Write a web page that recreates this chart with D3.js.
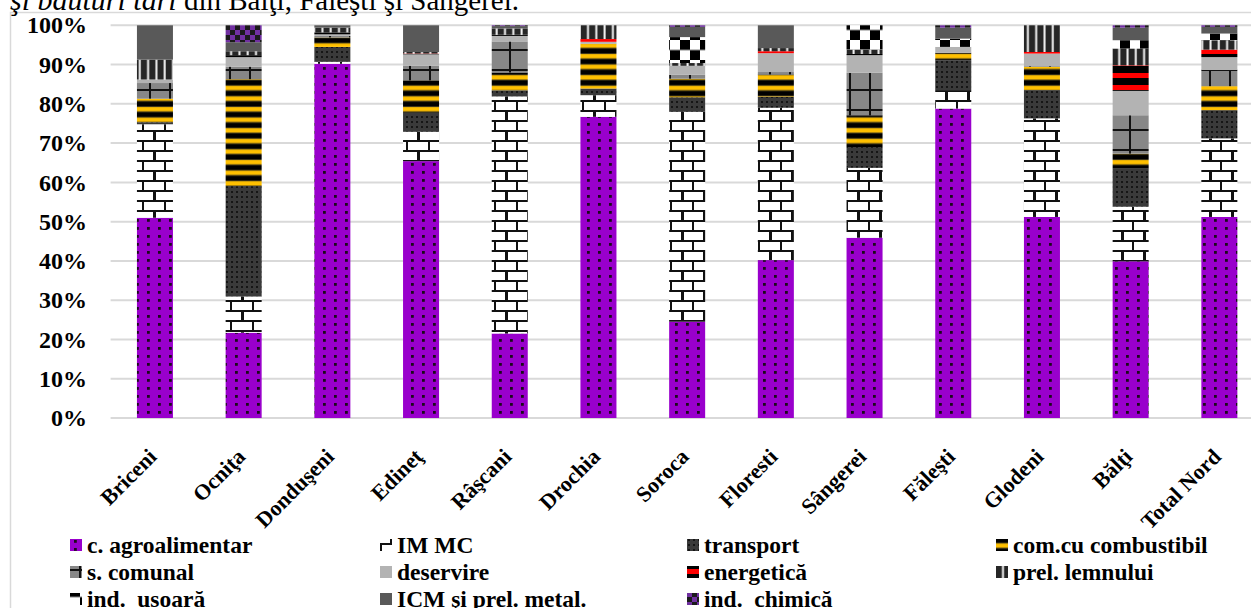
<!DOCTYPE html>
<html><head><meta charset="utf-8">
<script src="https://cdn.jsdelivr.net/npm/d3@7"></script>
<style>
body{margin:0;background:#fff;}
svg{display:block;}
text{font-family:"Liberation Serif","Times New Roman",serif;}
</style></head>
<body><svg id="c" width="1251" height="608"></svg>
<script>
const categories = ["Briceni","Ocniţa","Donduşeni","Edineţ","Râşcani","Drochia","Soroca","Floresti","Sângerei","Făleşti","Glodeni","Bălţi","Total Nord"];
const seriesNames = ["c. agroalimentar","IM MC","transport","com.cu combustibil","s. comunal","deservire","energetică","prel. lemnului","ind.  usoară","ICM şi prel. metal.","ind.  chimică"];
const agro      = [51.0, 21.7, 90.2, 65.4, 21.5, 76.7, 24.5, 40.2, 45.9, 78.8, 51.2, 39.9, 51.2];
const immc      = [23.8,  9.2,  0.6,  7.5, 60.3,  5.5, 53.4, 38.8, 17.8,  4.7, 25.1, 13.9, 20.0];
const transport = [ 0.5, 28.1,  3.7,  4.8,  1.5,  1.7,  3.7,  2.8,  5.3,  7.6,  7.2,  9.7,  7.2];
const combust   = [ 6.0, 27.2,  2.4,  8.3,  4.6, 11.4,  4.7,  5.7,  8.1,  1.9,  5.9,  3.8,  6.1];
const comunal   = [ 4.0,  3.2,  0.4,  3.7,  7.9,  0.0,  1.0,  0.6, 10.8,  0.0,  0.2,  9.8,  4.2];
const deservire = [ 0.9,  2.4,  0.4,  2.9,  1.4,  0.5,  2.3,  4.8,  4.5,  1.5,  3.2,  6.2,  3.2];
const energetica= [ 0.0,  0.5,  0.5,  0.2,  0.3,  0.7,  0.0,  0.5,  0.3,  0.0,  0.4,  6.5,  1.9];
const lemn      = [ 5.05, 1.0,  1.2,  0.4,  1.6,  3.5,  0.7,  0.8,  1.1,  0.0,  6.8,  4.3,  2.4];
const usoara    = [ 0.0,  0.0,  0.0,  0.0,  0.0,  0.0,  6.6,  0.0,  6.2,  2.1,  0.0,  2.1,  1.7];
const icm       = [ 8.75, 2.3,  0.6,  6.8,  0.6,  0.0,  2.6,  5.8,  0.0,  2.8,  0.0,  3.2,  1.7];
const chimica   = [ 0.0,  4.3,  0.0,  0.0,  0.2,  0.0,  0.4,  0.0,  0.0,  0.6,  0.0,  0.6,  0.4];
const yTicks = [0,0.1,0.2,0.3,0.4,0.5,0.6,0.7,0.8,0.9,1.0];

const seriesValues = [agro, immc, transport, combust, comunal, deservire, energetica, lemn, usoara, icm, chimica];
const keys = seriesNames;
const rows = categories.map((c,i)=>{const r={cat:c}; keys.forEach((k,j)=>r[k]=seriesValues[j][i]); return r;});

const FONT = "Liberation Serif";
const svg = d3.select("#c");
const defs = svg.append("defs");
function pat(id,w,h,draw){const p=defs.append("pattern").attr("id",id).attr("patternUnits","userSpaceOnUse").attr("width",w).attr("height",h); draw(p); return p;}
const R=(p,x,y,w,h,f)=>p.append("rect").attr("x",x).attr("y",y).attr("width",w).attr("height",h).attr("fill",f);
// c. agroalimentar: purple with black dots
pat("p0",11,8,p=>{R(p,0,0,11,8,"#9900cc");R(p,4,3,2.8,2.8,"#1a0a1a");});
// IM MC: bricks
pat("p1",22,20,p=>{R(p,0,0,22,20,"#fff");R(p,0,0,22,2,"#111");R(p,0,10,22,2,"#111");R(p,10,0,2,10,"#111");R(p,0,10,2,10,"#111");R(p,21,10,1,10,"#111");});
// transport: dark dotted
pat("p2",5,5,p=>{R(p,0,0,5,5,"#3a3a3a");R(p,1,1,2,2,"#151515");});
// com.cu combustibil: yellow/black stripes
pat("p3",10,10.6,p=>{R(p,0,0,10,10.6,"#000");R(p,0,1,10,4.5,"#ffc000");R(p,0,0.5,10,0.6,"#7a6a30");R(p,0,5.5,10,0.6,"#7a6a30");});
// s. comunal: grey grid
pat("p4",20,20,p=>{R(p,0,0,20,20,"#878787");R(p,9,0,2,20,"#111");R(p,0,9,20,2,"#111");});
// deservire
pat("p5",10,10,p=>{R(p,0,0,10,10,"#b3b3b3");});
// energetica: red/black stripes
pat("p6",10,12,p=>{R(p,0,0,10,12,"#000");R(p,0,1,10,5,"#ff0000");});
// prel. lemnului: vertical stripes
pat("p7",8.3,10,p=>{R(p,0,0,8.3,10,"#262626");R(p,6,0,2,10,"#f2f2f2");});
// ind. usoara: checkerboard
pat("p8",20,20,p=>{R(p,0,0,20,20,"#fff");R(p,0,0,10,10,"#000");R(p,10,10,10,10,"#000");R(p,0,9.5,20,1,"#888");});
// ICM
pat("p9",10,10,p=>{R(p,0,0,10,10,"#595959");});
// ind. chimica: purple/black checker
pat("p10",10,10,p=>{R(p,0,0,10,10,"#7030a0");R(p,0,0,5,5,"#1a1a1a");R(p,5,5,5,5,"#1a1a1a");});

// background + border
svg.append("rect").attr("width",1251).attr("height",608).attr("fill","#fff");
svg.append("path").attr("d","M10.5,700V12.5H1300").attr("fill","none").attr("stroke","#d9d9d9").attr("stroke-width",1.5);

// title fragment (cut off)
const t = svg.append("text").attr("x",10).attr("y",10).attr("font-size",30).attr("font-family",FONT).attr("fill","#000");
t.append("tspan").attr("font-style","italic").text("şi băuturi tari");
t.append("tspan").attr("font-size",29).text(" din Bălţi, Făleşti şi Sângerei.");

const x = d3.scaleBand().domain(categories).range([110.6,1263.7]).paddingInner(0.594).paddingOuter(0.297);
const y = d3.scaleLinear().domain([0,1]).range([418,25.3]);

// gridlines
svg.append("g").selectAll("line").data(yTicks).join("line")
  .attr("x1",110.6).attr("x2",1300).attr("y1",d=>y(d)).attr("y2",d=>y(d))
  .attr("stroke","#d9d9d9").attr("stroke-width",2);

// y axis labels
const yAxis = d3.axisLeft(y).tickValues(yTicks).tickFormat(d3.format(".0%")).tickSize(0).tickPadding(0);
const ya = svg.append("g").attr("transform","translate(87,0)").call(yAxis);
ya.select(".domain").remove();
ya.attr("font-family",FONT);
ya.selectAll("text").attr("font-size",24).attr("font-weight","bold").attr("font-family",FONT).attr("fill","#000");

// stacked bars
const stack = d3.stack().keys(keys).offset(d3.stackOffsetExpand);
const stacked = stack(rows);
svg.append("g").selectAll("g").data(stacked).join("g")
  .attr("fill",(d,i)=>`url(#p${i})`)
  .selectAll("rect").data(d=>d).join("rect")
  .attr("x",d=>x(d.data.cat)).attr("width",x.bandwidth())
  .attr("y",d=>y(d[1])).attr("height",d=>Math.max(0,y(d[0])-y(d[1])));

// x labels
const xAxis = d3.axisBottom(x).tickSize(0).tickPadding(0);
const xa = svg.append("g").attr("transform","translate(0,418)").call(xAxis);
xa.select(".domain").remove();
xa.attr("font-family",FONT);
xa.selectAll("text").attr("font-size",22).attr("font-weight","bold").attr("font-family",FONT).attr("fill","#000")
  .attr("text-anchor","end").attr("dy",null).attr("y",null)
  .attr("transform","translate(3,40) rotate(-45)");

// legend
const legX = [70, 380, 687, 996];
const legY = [553, 580, 607];
const lg = svg.append("g").selectAll("g").data(keys).join("g")
  .attr("transform",(d,i)=>`translate(${legX[i%4]},${legY[Math.floor(i/4)]})`);
lg.append("rect").attr("y",-14).attr("width",12).attr("height",12).attr("fill",(d,i)=>`url(#p${i})`);
lg.append("text").attr("x",17).attr("y",0).attr("font-size",23.5).attr("font-weight","bold").attr("font-family",FONT)
  .attr("fill","#000").attr("xml:space","preserve").style("white-space","pre").text(d=>d);
</script></body></html>
